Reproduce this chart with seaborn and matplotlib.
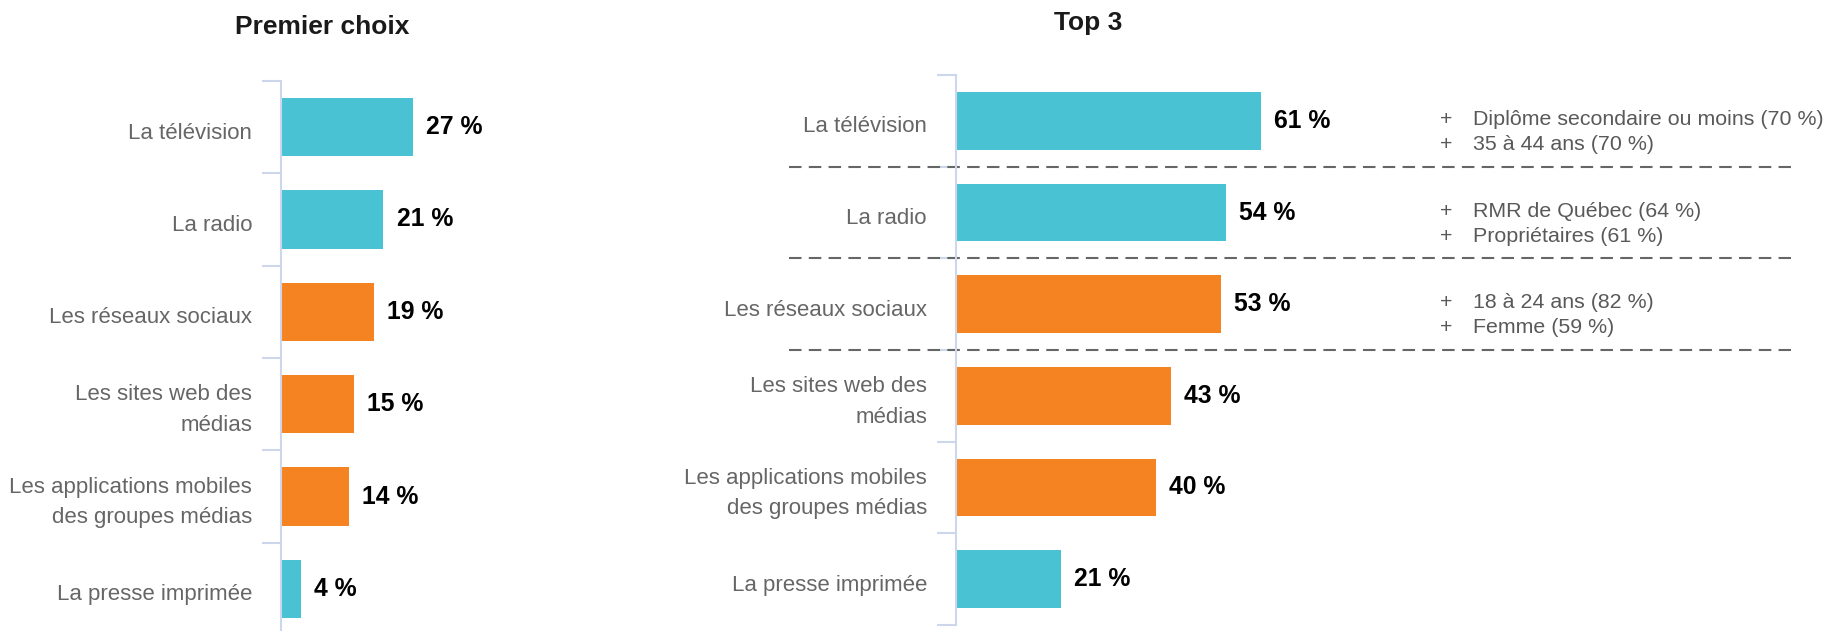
import matplotlib
matplotlib.use("Agg")
import matplotlib.pyplot as plt
import seaborn as sns
import pandas as pd
import numpy as np
from matplotlib.transforms import blended_transform_factory, ScaledTranslation

categories = ["La télévision", "La radio", "Les réseaux sociaux",
              "Les sites web des\nmédias",
              "Les applications mobiles\ndes groupes médias",
              "La presse imprimée"]
media_type = ["trad", "trad", "num", "num", "num", "trad"]
premier_choix = [27, 21, 19, 15, 14, 4]
top3 = [61, 54, 53, 43, 40, 21]
notes_top3 = [["Diplôme secondaire ou moins (70 %)", "35 à 44 ans (70 %)"],
              ["RMR de Québec (64 %)", "Propriétaires (61 %)"],
              ["18 à 24 ans (82 %)", "Femme (59 %)"]]
titles = ["Premier choix", "Top 3"]
palette = {"trad": "#49C3D3", "num": "#F58322"}

sns.set_theme(style="white")
plt.rcParams["font.family"] = ["Liberation Sans", "DejaVu Sans"]

W, H = 1843, 631
DPI = 100
fig = plt.figure(figsize=(W / DPI, H / DPI), dpi=DPI)
ax1 = fig.add_axes([281 / W, -4 / H, 242.5 / W, 554 / H])
ax2 = fig.add_axes([956 / W, 6 / H, 835 / W, 550 / H])

AXIS_COL = "#cdd6ea"
LABEL_COL = "#666666"


def draw(ax, values, xmax):
    df = pd.DataFrame({"cat": categories, "val": values, "type": media_type})
    sns.barplot(data=df, x="val", y="cat", hue="type", palette=palette,
                orient="h", width=0.63, dodge=False, legend=False, ax=ax,
                linewidth=0, saturation=1)
    ax.set_xlim(0, xmax)
    ax.set_ylim(len(categories) - 0.5, -0.5)
    ax.set_xticks([])
    ax.set_xlabel("")
    ax.set_ylabel("")
    ax.set_yticks(np.arange(len(categories)), labels=[""] * len(categories))
    ax.set_yticks(np.arange(-0.5, len(categories), 1), minor=True)
    ax.tick_params(axis="y", which="major", length=0)
    ax.tick_params(axis="y", which="minor", left=True, length=13.7,
                   width=1.5, color=AXIS_COL, direction="out")
    for s in ["top", "right", "bottom"]:
        ax.spines[s].set_visible(False)
    ax.spines["left"].set_color(AXIS_COL)
    ax.spines["left"].set_linewidth(1.5)
    # category labels
    tr = blended_transform_factory(ax.transAxes, ax.transData) + \
        ScaledTranslation(-29 / DPI, -6 / DPI, fig.dpi_scale_trans)
    for i, cat in enumerate(categories):
        ax.text(0, i, cat, transform=tr, ha="right", va="center",
                multialignment="right", fontsize=16, color=LABEL_COL,
                linespacing=1.6)
    for cont in ax.containers:
        ax.bar_label(cont, labels=[f"{w:.0f} %" for w in cont.datavalues],
                     padding=9.4, fontsize=17.8, fontweight="bold",
                     color="black")


draw(ax1, premier_choix, 49.7)
draw(ax2, top3, 167)

# annotations on the right panel
for i, lines in enumerate(notes_top3):
    for j, line in enumerate(lines):
        y = i + 0.045 + j * 0.273
        ax2.text(96.8, y, "+", ha="left", va="baseline", fontsize=15.4,
                 color="#595959")
        ax2.text(103.4, y, line, ha="left", va="baseline", fontsize=15.4,
                 color="#595959")

trans = blended_transform_factory(ax2.transAxes, ax2.transData)
for i in range(len(notes_top3)):
    b = i + 0.5
    ax2.plot([-0.2, 1.0], [b, b], transform=trans, clip_on=False,
             ls=(0, (6, 3.5)), color="#666666", lw=1.5)

fig.text(322 / W, 1 - 34 / H, titles[0], ha="center", va="baseline",
         fontsize=19, fontweight="bold", color="#1a1a1a")
fig.text(1088 / W, 1 - 30 / H, titles[1], ha="center", va="baseline",
         fontsize=19, fontweight="bold", color="#1a1a1a")

fig.savefig("out.png", dpi=DPI)
